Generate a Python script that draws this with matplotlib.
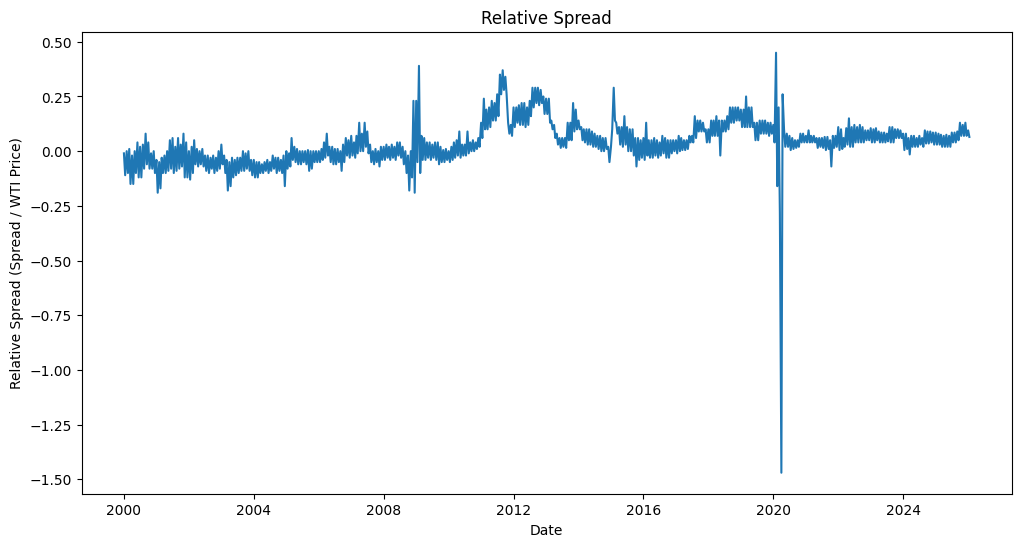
import matplotlib
matplotlib.use("Agg")
import matplotlib.pyplot as plt
import matplotlib.dates as mdates
from matplotlib.ticker import MultipleLocator
import pandas as pd

# Semi-monthly readings (1st and 15th of each month) of the relative spread
v2000 = [-0.01, -0.11, 0.00, -0.10, 0.01, -0.15, -0.02, -0.15, 0.00, -0.10, 0.04, -0.12,
         0.02, -0.12, 0.03, -0.08, 0.08, -0.06, 0.04, -0.08, -0.01, -0.08, 0.00, -0.10]
v2001 = [-0.04, -0.19, -0.05, -0.17, -0.03, -0.10, -0.02, -0.10, 0.00, -0.09, 0.05, -0.08,
         0.06, -0.10, 0.02, -0.09, 0.06, -0.08, 0.03, -0.07, 0.08, -0.12, 0.04, -0.12]
v2002 = [0.00, -0.13, 0.02, -0.10, 0.05, -0.06, 0.01, -0.07, 0.00, -0.06, 0.01, -0.07,
         -0.02, -0.09, -0.02, -0.10, -0.03, -0.08, -0.02, -0.10, -0.03, -0.09, 0.00, -0.08]
v2003 = [0.03, -0.06, -0.02, -0.10, -0.04, -0.18, -0.05, -0.16, -0.03, -0.12, -0.04, -0.11,
         -0.03, -0.10, -0.03, -0.09, 0.00, -0.09, -0.01, -0.08, 0.00, -0.09, -0.04, -0.11]
v2004 = [-0.04, -0.12, -0.05, -0.12, -0.05, -0.10, -0.06, -0.10, -0.05, -0.09, -0.04, -0.10,
         -0.05, -0.09, -0.02, -0.08, -0.03, -0.10, -0.03, -0.09, -0.04, -0.10, -0.02, -0.16]
v2005 = [0.00, -0.08, -0.01, -0.07, 0.06, -0.04, 0.02, -0.05, 0.01, -0.06, 0.00, -0.06,
         0.00, -0.05, 0.00, -0.06, 0.005, -0.09, 0.00, -0.08, 0.00, -0.05, 0.00, -0.05]
v2006 = [0.00, -0.05, 0.01, -0.04, 0.04, -0.03, 0.08, -0.02, 0.02, -0.05, 0.02, -0.06,
         0.01, -0.06, 0.01, -0.05, 0.00, -0.09, 0.03, -0.05, 0.06, -0.02, 0.05, -0.03]
v2007 = [0.07, -0.02, 0.04, -0.03, 0.07, -0.01, 0.13, 0.00, 0.08, 0.00, 0.13, 0.02,
         0.09, -0.01, 0.03, -0.05, 0.00, -0.06, 0.01, -0.05, 0.00, -0.07, 0.02, -0.04]
v2008 = [0.02, -0.04, 0.03, -0.03, 0.02, -0.04, 0.03, -0.03, 0.02, -0.04, 0.04, -0.02,
         0.04, -0.03, 0.02, -0.06, 0.00, -0.10, -0.02, -0.18, 0.00, -0.12, 0.23, -0.19]
v2009 = [0.23, -0.05, 0.39, -0.10, 0.07, -0.04, 0.06, -0.04, 0.04, -0.03, 0.04, -0.04,
         0.03, -0.03, 0.04, -0.04, 0.04, -0.06, 0.02, -0.05, 0.005, -0.05, 0.01, -0.04]
v2010 = [0.00, -0.05, 0.02, -0.04, 0.04, -0.03, 0.05, -0.02, 0.09, -0.03, 0.03, -0.02,
         0.03, -0.02, 0.09, -0.01, 0.04, 0.00, 0.05, 0.00, 0.04, 0.01, 0.06, 0.02]
v2011 = [0.13, 0.06, 0.24, 0.10, 0.19, 0.10, 0.20, 0.11, 0.23, 0.14, 0.22, 0.14,
         0.26, 0.16, 0.35, 0.26, 0.37, 0.28, 0.34, 0.26, 0.13, 0.08, 0.12, 0.07]
v2012 = [0.20, 0.11, 0.20, 0.13, 0.21, 0.12, 0.22, 0.12, 0.22, 0.11, 0.20, 0.12,
         0.23, 0.16, 0.29, 0.20, 0.29, 0.22, 0.29, 0.21, 0.28, 0.22, 0.25, 0.17]
v2013 = [0.24, 0.17, 0.24, 0.13, 0.14, 0.10, 0.12, 0.06, 0.08, 0.03, 0.06, 0.015,
         0.06, 0.02, 0.06, 0.015, 0.13, 0.05, 0.13, 0.05, 0.22, 0.09, 0.19, 0.10]
v2014 = [0.14, 0.10, 0.11, 0.05, 0.10, 0.04, 0.10, 0.03, 0.10, 0.03, 0.09, 0.02,
         0.08, 0.02, 0.07, 0.01, 0.07, 0.00, 0.06, 0.00, 0.06, 0.01, 0.02, -0.05]
v2015 = [0.02, 0.10, 0.29, 0.14, 0.13, 0.08, 0.11, 0.03, 0.11, 0.02, 0.16, 0.03,
         0.11, 0.00, 0.10, 0.00, 0.10, -0.02, 0.06, -0.07, 0.06, -0.04, 0.05, -0.03]
v2016 = [0.06, -0.04, 0.13, -0.02, 0.05, -0.03, 0.05, -0.03, 0.06, -0.02, 0.05, -0.03,
         0.04, -0.02, 0.07, -0.01, 0.06, -0.03, 0.05, -0.03, 0.05, -0.01, 0.05, 0.00]
v2017 = [0.05, -0.01, 0.07, 0.00, 0.06, 0.005, 0.05, 0.005, 0.05, 0.01, 0.07, 0.04,
         0.07, 0.04, 0.16, 0.06, 0.14, 0.09, 0.14, 0.09, 0.13, 0.09, 0.10, 0.04]
v2018 = [0.10, 0.04, 0.14, 0.07, 0.14, 0.07, 0.16, 0.07, 0.14, -0.02, 0.14, 0.09,
         0.14, 0.09, 0.16, 0.10, 0.20, 0.13, 0.20, 0.13, 0.20, 0.14, 0.20, 0.14]
v2019 = [0.19, 0.11, 0.19, 0.11, 0.25, 0.11, 0.20, 0.11, 0.20, 0.11, 0.13, 0.05,
         0.13, 0.05, 0.14, 0.08, 0.14, 0.08, 0.14, 0.08, 0.13, 0.07, 0.13, 0.08]
v2020 = [0.12, 0.04, 0.45, -0.16, 0.20, -0.28, -1.47, 0.26, 0.10, 0.02, 0.08, 0.02,
         0.07, 0.005, 0.06, 0.01, 0.05, 0.015, 0.05, 0.02, 0.08, 0.04, 0.08, 0.04]
v2021 = [0.07, 0.04, 0.095, 0.04, 0.07, 0.04, 0.07, 0.04, 0.06, 0.015, 0.06, 0.02,
         0.06, 0.015, 0.065, 0.005, 0.065, 0.01, 0.05, -0.07, 0.07, 0.015, 0.07, 0.02]
v2022 = [0.11, 0.005, 0.10, 0.01, 0.06, 0.02, 0.105, 0.03, 0.15, 0.02, 0.11, 0.02,
         0.12, 0.04, 0.11, 0.04, 0.12, 0.04, 0.11, 0.04, 0.095, 0.05, 0.095, 0.05]
v2023 = [0.105, 0.04, 0.10, 0.04, 0.105, 0.05, 0.09, 0.04, 0.085, 0.04, 0.085, 0.04,
         0.08, 0.045, 0.11, 0.04, 0.11, 0.04, 0.10, 0.06, 0.10, 0.06, 0.095, 0.06]
v2024 = [0.08, 0.005, 0.08, 0.01, 0.06, -0.015, 0.07, 0.02, 0.07, 0.02, 0.06, 0.02,
         0.07, 0.03, 0.06, 0.02, 0.095, 0.035, 0.09, 0.035, 0.09, 0.04, 0.085, 0.03]
v2025 = [0.085, 0.03, 0.08, 0.03, 0.075, 0.02, 0.07, 0.02, 0.075, 0.02, 0.07, 0.02,
         0.085, 0.04, 0.085, 0.04, 0.09, 0.05, 0.13, 0.07, 0.12, 0.07, 0.13, 0.07]
v2026 = [0.095, 0.065]

values = (v2000 + v2001 + v2002 + v2003 + v2004 + v2005 + v2006 + v2007 + v2008
          + v2009 + v2010 + v2011 + v2012 + v2013 + v2014 + v2015 + v2016 + v2017
          + v2018 + v2019 + v2020 + v2021 + v2022 + v2023 + v2024 + v2025 + v2026)
dates = pd.date_range("2000-01-01", periods=len(values), freq="SMS")

fig, ax = plt.subplots(figsize=(12, 6), dpi=100)
ax.plot(dates, values, color="#1f77b4", linewidth=1.5)
ax.set_title("Relative Spread")
ax.set_xlabel("Date")
ax.set_ylabel("Relative Spread (Spread / WTI Price)")
ax.yaxis.set_major_locator(MultipleLocator(0.25))
ax.xaxis.set_major_locator(mdates.YearLocator(4))
ax.xaxis.set_major_formatter(mdates.DateFormatter("%Y"))
fig.savefig("out.png", dpi=100, bbox_inches="tight")
